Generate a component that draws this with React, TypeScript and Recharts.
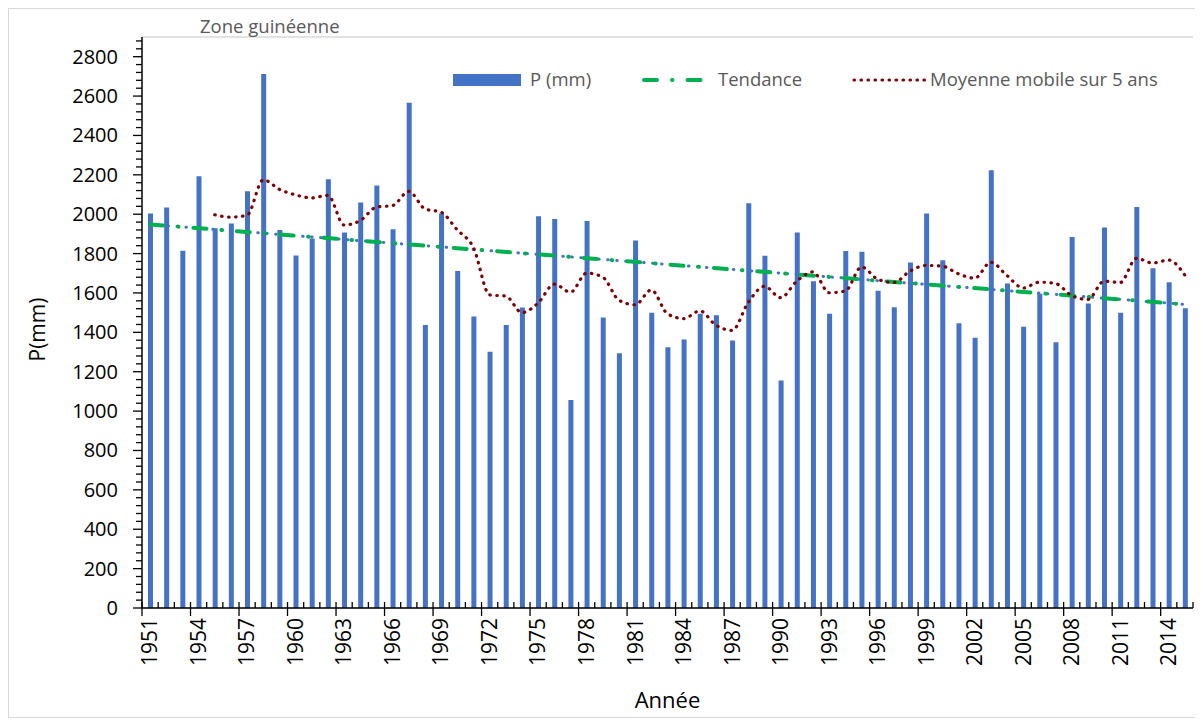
import { ComposedChart, Bar, Line, XAxis, YAxis, CartesianGrid } from 'recharts'

// Précipitations annuelles, zone guinéenne (mm)
const YEARS = Array.from({ length: 65 }, (_, i) => String(1951 + i))

const P_MM = [
  2004, 2034, 1815, 2193, 1929, 1953, 2116, 2712, 1920, 1790,
  1877, 2178, 1907, 2060, 2146, 1923, 2566, 1437, 2004, 1712,
  1481, 1302, 1437, 1526, 1989, 1976, 1056, 1965, 1476, 1294,
  1867, 1500, 1324, 1364, 1495, 1487, 1358, 2056, 1789, 1156,
  1907, 1659, 1495, 1813, 1809, 1611, 1528, 1755, 2004, 1766,
  1446, 1373, 2223, 1648, 1429, 1596, 1350, 1884, 1547, 1933,
  1500, 2036, 1725, 1654, 1523,
]

// moyenne mobile sur 5 ans (à partir de 1955)
const MOY_MOBILE = [
  null, null, null, null,
  1997, 1985, 1995, 2175, 2126, 2098, 2083, 2096, 1945, 1968,
  2036, 2044, 2116, 2027, 2010, 1920, 1830, 1590, 1584, 1500,
  1549, 1645, 1604, 1701, 1680, 1563, 1540, 1615, 1494, 1470,
  1509, 1436, 1410, 1553, 1634, 1576, 1660, 1707, 1601, 1610,
  1732, 1670, 1653, 1711, 1740, 1736, 1697, 1675, 1756, 1688,
  1625, 1655, 1648, 1587, 1567, 1660, 1653, 1776, 1752, 1767,
  1690,
]

// tendance linéaire : valeurs aux deux extrémités
const TENDANCE_DEBUT = 1948
const TENDANCE_FIN = 1542

const Y_LABELS = [0, 200, 400, 600, 800, 1000, 1200, 1400, 1600, 1800, 2000, 2200, 2400, 2600, 2800]
const Y_TICKS = Array.from({ length: 73 }, (_, i) => i * 40)

const data = YEARS.map((year, i) => ({
  year,
  p: P_MM[i],
  ma: MOY_MOBILE[i],
  trend: i === 0 ? TENDANCE_DEBUT : i === YEARS.length - 1 ? TENDANCE_FIN : null,
}))

const W = 1192
const H = 710
const MARGIN = { top: 29, right: 7, bottom: 0, left: 0 }
const Y_AXIS_W = 134
const X_AXIS_H = 110
const STEP = (W - MARGIN.left - MARGIN.right - Y_AXIS_W) / YEARS.length
const Y_DOMAIN = [0, 2900]

const FONT = '"Open Sans", sans-serif'
const BLUE = '#4472C4'
const GREEN = '#00B050'
const RED = '#7F0000'
const GREY = '#595959'

function XTick(props: any) {
  const { x, y, payload, index } = props
  const left = x - STEP / 2
  const major = index % 3 === 0
  return (
    <g>
      <line x1={left} x2={left} y1={y - 6} y2={major ? y + 8 : y} stroke="#000" strokeWidth={1.3} />
      {index === YEARS.length - 1 && (
        <line x1={x + STEP / 2} x2={x + STEP / 2} y1={y - 6} y2={y} stroke="#000" strokeWidth={1.3} />
      )}
      {major && (
        <text
          x={x}
          y={y + 10}
          dy="0.35em"
          textAnchor="end"
          transform={`rotate(-90, ${x}, ${y + 10})`}
          fontSize={21}
          fontFamily={FONT}
          fill="#000"
        >
          {payload.value}
        </text>
      )}
    </g>
  )
}

function YTick(props: any) {
  const { x, y, payload } = props
  const major = payload.value % 200 === 0
  return (
    <g>
      <line x1={x - (major ? 9 : 6)} x2={x} y1={y} y2={y} stroke="#000" strokeWidth={1.3} />
      {major && (
        <text x={x - 24} y={y} dy="0.35em" textAnchor="end" fontSize={20} fontFamily={FONT} fill="#000">
          {payload.value}
        </text>
      )}
    </g>
  )
}

function Legende() {
  return (
    <svg width={W} height={100} style={{ position: 'absolute', left: 0, top: 0, pointerEvents: 'none' }}>
      <rect x={445} y={66} width={68} height={12} fill={BLUE} />
      <text x={522} y={72} dy="0.35em" fontSize={18.5} fontFamily={FONT} fill={GREY}>P (mm)</text>
      <line x1={636} x2={693} y1={72} y2={72} stroke={GREEN} strokeWidth={4} strokeLinecap="round" strokeDasharray="13 15 0.5 15" />
      <text x={710} y={72} dy="0.35em" fontSize={18.5} fontFamily={FONT} fill={GREY}>Tendance</text>
      <line x1={846} x2={917} y1={72} y2={72} stroke={RED} strokeWidth={3.2} strokeLinecap="round" strokeDasharray="0.5 6.5" />
      <text x={922} y={72} dy="0.35em" fontSize={18.5} fontFamily={FONT} fill={GREY}>Moyenne mobile sur 5 ans</text>
      <text x={192} y={25} fontSize={18.5} fontFamily={FONT} fill={GREY}>Zone guinéenne</text>
    </svg>
  )
}

export default function App() {
  return (
    <div style={{ position: 'relative', width: W, height: H, outline: '1px solid #D9D9D9', outlineOffset: -1 }}>
      <ComposedChart width={W} height={H} data={data} margin={MARGIN} style={{ fontFamily: FONT }}>
        <CartesianGrid vertical={false} yAxisId="grid" stroke="#D9D9D9" strokeWidth={1.3} />
        <XAxis
          dataKey="year"
          interval={0}
          height={X_AXIS_H}
          tickSize={0}
          tickMargin={0}
          tickLine={false}
          axisLine={{ stroke: '#000', strokeWidth: 1.5 }}
          tick={<XTick />}
          label={{
            content: ({ viewBox }: any) => (
              <text
                x={viewBox.x + viewBox.width / 2}
                y={viewBox.y + 92}
                dy="0.35em"
                textAnchor="middle"
                fontSize={22}
                fontFamily={FONT}
                fill="#000"
              >
                Année
              </text>
            ),
          }}
        />
        <YAxis yAxisId="grid" hide domain={Y_DOMAIN} ticks={Y_LABELS} interval={0} />
        <YAxis
          width={Y_AXIS_W}
          domain={Y_DOMAIN}
          ticks={Y_TICKS}
          interval={0}
          tickSize={0}
          tickMargin={0}
          tickLine={false}
          axisLine={{ stroke: '#000', strokeWidth: 1.5 }}
          tick={<YTick />}
          label={{
            content: ({ viewBox }: any) => {
              const cx = viewBox.x + 30
              const cy = viewBox.y + viewBox.height / 2 + 7
              return (
                <text
                  x={cx}
                  y={cy}
                  dy="0.35em"
                  textAnchor="middle"
                  transform={`rotate(-90, ${cx}, ${cy})`}
                  fontSize={21}
                  fontFamily={FONT}
                  fill="#000"
                >
                  P(mm)
                </text>
              )
            },
          }}
        />
        <Bar dataKey="p" name="P (mm)" fill={BLUE} barSize={5} isAnimationActive={false} />
        <Line
          dataKey="trend"
          stroke={BLUE}
          strokeWidth={3}
          strokeLinecap="round"
          strokeDasharray="0.5 8.5"
          dot={false}
          connectNulls
          isAnimationActive={false}
        />
        <Line
          dataKey="trend"
          name="Tendance"
          stroke={GREEN}
          strokeWidth={4}
          strokeLinecap="round"
          strokeDasharray="13 15 0.5 15"
          dot={false}
          connectNulls
          isAnimationActive={false}
        />
        <Line
          dataKey="ma"
          name="Moyenne mobile sur 5 ans"
          type="monotone"
          stroke={RED}
          strokeWidth={3.2}
          strokeLinecap="round"
          strokeDasharray="0.5 6.5"
          dot={false}
          isAnimationActive={false}
        />
      </ComposedChart>
      <Legende />
    </div>
  )
}
